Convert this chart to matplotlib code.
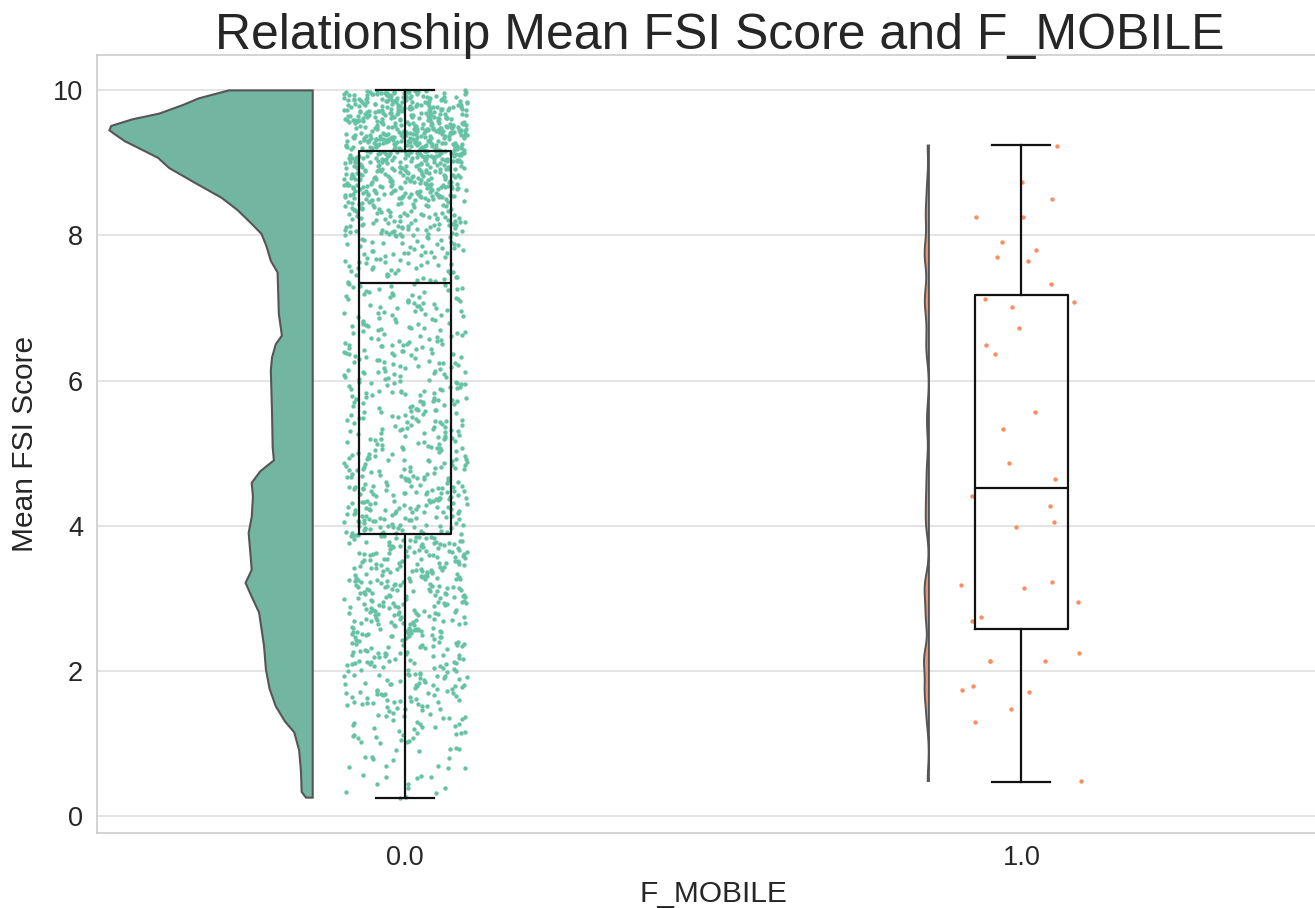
import numpy as np
import matplotlib.pyplot as plt
from matplotlib import mlab

plt.rcParams['font.family'] = ['Liberation Sans', 'DejaVu Sans']

categories = ['0.0', '1.0']

# group 0.0: half-violin outline (score, half width)
violin0_y = [0.25, 0.33, 0.60, 0.90, 1.15, 1.30, 1.51, 1.75, 2.02, 2.34, 2.80, 3.02, 3.21,
             3.39, 3.60, 3.90, 4.12, 4.40, 4.59, 4.75, 4.90, 5.08, 5.55, 6.14, 6.32, 6.50,
             6.62, 6.92, 7.20, 7.49, 7.65, 7.85, 8.02, 8.16, 8.35, 8.52, 8.72, 8.93, 9.07,
             9.19, 9.30, 9.40, 9.45, 9.51, 9.60, 9.68, 9.80, 9.89, 10.0]
violin0_w = [0.011, 0.018, 0.019, 0.022, 0.030, 0.045, 0.060, 0.070, 0.076, 0.079, 0.087,
             0.099, 0.109, 0.099, 0.101, 0.104, 0.099, 0.097, 0.099, 0.085, 0.063, 0.065,
             0.066, 0.068, 0.066, 0.060, 0.050, 0.055, 0.056, 0.057, 0.068, 0.075, 0.083,
             0.099, 0.122, 0.148, 0.190, 0.233, 0.251, 0.279, 0.305, 0.322, 0.330, 0.327,
             0.293, 0.249, 0.210, 0.185, 0.136]

# group 0.0: approximate number of points per score band
band_lo = [0.25, 0.5, 1.0, 1.5, 2.0, 2.5, 3.0, 3.5, 4.0, 4.5, 5.0, 5.5, 6.0, 6.5, 7.0, 7.5, 8.0, 8.5, 9.0, 9.5]
band_hi = [0.5, 1.0, 1.5, 2.0, 2.5, 3.0, 3.5, 4.0, 4.5, 5.0, 5.5, 6.0, 6.5, 7.0, 7.5, 8.0, 8.5, 9.0, 9.5, 10.0]
band_n = [8, 20, 42, 66, 72, 86, 94, 92, 90, 70, 60, 62, 60, 50, 50, 60, 104, 180, 260, 215]

# group 1.0: individual scores
scores1 = [9.24, 8.74, 8.50, 8.25, 8.26, 7.91, 7.80, 7.65, 7.70, 7.33, 7.13, 7.08, 7.01,
           6.73, 6.49, 6.37, 5.57, 5.33, 4.86, 4.64, 4.41, 4.27, 4.05, 3.98, 3.18, 3.22,
           3.14, 2.95, 2.69, 2.74, 2.25, 2.13, 2.13, 2.13, 1.79, 1.73, 1.70, 1.47, 1.29, 0.48]

# box statistics
box_q1 = [3.88, 2.58]
box_med = [7.34, 4.52]
box_q3 = [9.17, 7.18]
box_lo = [0.25, 0.47]
box_hi = [10.0, 9.25]

colors = ['#66c2a5', '#fc8d62']
violin_colors = ['#72b6a1', '#e99575']


def spread(n, start=0):
    # even spread inside a band (R2 sequence)
    i = np.arange(start, start + n)
    return (i * 0.7548776662) % 1


def scatter_x(n, seed):
    # hash-like jitter so the strip does not look like a lattice
    i = np.arange(n) + seed
    return (np.sin(i * 12.9898 + 78.233) * 43758.5453) % 1


# expand the bands of group 0 into points
ys0 = []
k = 0
for lo, hi, n in zip(band_lo, band_hi, band_n):
    ys0.extend(lo + (hi - lo) * spread(n, k))
    k += n
ys0 = np.array(ys0)
ys1 = np.array(scores1)

fig = plt.figure(figsize=(13.15, 9.08), dpi=100)
ax = fig.add_axes([0.0738, 0.0826, 1.011 - 0.0738, 0.9394 - 0.0826])

offset = -0.15

# half violin, group 0
vy = np.array(violin0_y)
vw = np.array(violin0_w)
px = np.concatenate([[offset], offset - vw, [offset]])
py = np.concatenate([[vy[0]], vy, [vy[-1]]])
ax.fill(px, py, facecolor=violin_colors[0], edgecolor='#555555', linewidth=1.5, zorder=2)

# half violin, group 1 (kde of its scores)
kde = mlab.GaussianKDE(ys1, bw_method=0.07)
grid = np.linspace(ys1.min(), ys1.max(), 300)
dens = kde.evaluate(grid)
w1 = dens / dens.max() * 0.008
px = np.concatenate([[1 + offset], 1 + offset - w1, [1 + offset]])
py = np.concatenate([[grid[0]], grid, [grid[-1]]])
ax.fill(px, py, facecolor=violin_colors[1], edgecolor='#555555', linewidth=1.4, zorder=2)

# strips
for pos, ys in enumerate([ys0, ys1]):
    fx = scatter_x(len(ys), 3 + pos * 5000)
    ax.scatter(pos + (fx - 0.5) * 0.2, ys, s=10, color=colors[pos], linewidths=0, zorder=3)

# boxes
stats = []
for i in range(2):
    stats.append(dict(med=box_med[i], q1=box_q1[i], q3=box_q3[i],
                      whislo=box_lo[i], whishi=box_hi[i], fliers=[]))
line = dict(color='#111111', linewidth=1.6)
ax.bxp(stats, positions=[0, 1], widths=0.15, capwidths=0.094, showfliers=False,
       boxprops=line, medianprops=line, whiskerprops=line, capprops=line,
       patch_artist=False, zorder=4)

ax.set_xlim(-0.5, 1.5)
ax.set_ylim(-0.2375, 10.4875)
ax.set_xticks([0, 1])
ax.set_xticklabels(categories)
ax.set_yticks([0, 2, 4, 6, 8, 10])

ax.set_axisbelow(True)
ax.grid(axis='y', color='#dddddd', linewidth=1.1)
ax.grid(axis='x', visible=False)
for s in ax.spines.values():
    s.set_color('#cccccc')
    s.set_linewidth(1.2)

ax.tick_params(axis='both', length=0, labelsize=19.5, labelcolor='#262626')
ax.tick_params(axis='y', pad=10)
ax.tick_params(axis='x', pad=9)

ax.set_xlabel('F_MOBILE', fontsize=21.5, color='#262626', labelpad=6)
ax.set_ylabel('Mean FSI Score', fontsize=21.5, color='#262626', labelpad=10)
fig.text(0.547, 0.935, 'Relationship Mean FSI Score and F_MOBILE',
         fontsize=36, color='#262626', ha='center', va='bottom')

fig.savefig('out.png', dpi=100)
